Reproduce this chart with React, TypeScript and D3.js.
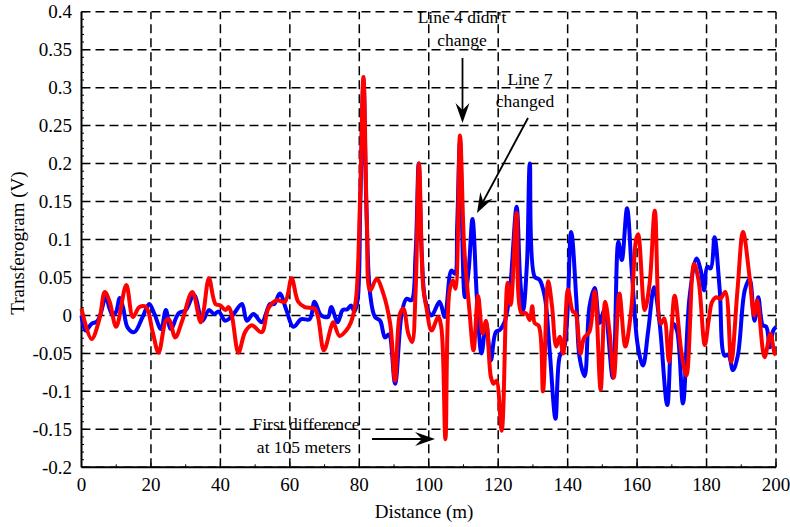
import React from "react";
import * as d3 from "d3";

const blueX = [0,1.2,2.9,4.5,5.5,7,8,9,10,11,12,13.3,15.2,17.6,19.5,21,22.9,24.3,25.7,28,30,32.4,34.8,36.7,38.2,39.5,41.4,43.5,46.2,47.6,49.5,51.9,54.3,55.5,57.1,59,61,63.3,65.7,67.1,69,71,71.9,73.8,75.2,76.5,77.6,78.6,79.5,80.3,81.2,82,83.1,84.5,86,87.4,88.5,90.3,92.2,93.6,95,96.2,97.1,98,99,100.8,103.1,104.6,106.5,107.5,108.2,109,110.4,111.5,112.6,113.9,115.2,116.5,117.9,119.3,120.5,121.9,123.3,125.3,126.3,127.2,128.3,129.1,130.5,131.9,133.4,134.8,136.5,137.7,139.1,141,142.5,143.4,144.9,146.3,147.8,149.2,150.6,153,154.6,155.6,157.1,158.5,160.2,161.7,163.2,164.9,166.5,168.7,170.4,171.5,173.2,175.1,177.1,178.3,179.3,180.2,181.2,182.3,183.8,185.2,186.3,187.6,189,191,192.4,193.8,194.9,196.2,197.2,198.2,199.2,200];
const blueY = [0,-0.02,-0.011,-0.008,0.002,0.025,0.01,0,0.005,0.023,0.01,-0.016,-0.022,-0.002,0.015,0.002,-0.018,0.007,-0.018,0.003,0.007,0.027,-0.007,0.007,0.002,0.005,-0.007,0,0.015,-0.007,0.002,-0.009,0.015,0.015,0.029,0.007,-0.015,-0.005,-0.005,0.018,0,-0.002,0.011,-0.009,0.007,0.008,0.013,0.005,0.02,0.15,0.31,0.15,0.029,-0.002,-0.007,-0.029,-0.025,-0.09,0.002,0.022,0.02,0.08,0.2,0.08,0.02,0,0.018,-0.002,0.059,0.055,0.12,0.23,0.024,0.06,0.127,0.02,-0.05,-0.01,-0.059,-0.022,-0.019,-0.008,0.029,0.143,0.05,0.007,0.07,0.2,0.051,0.047,0.025,-0.045,-0.136,-0.054,-0.041,0.11,0.021,-0.054,-0.08,0.012,0.036,-0.01,0.007,-0.082,0.097,0.073,0.141,0.056,-0.04,-0.066,-0.02,0.037,-0.011,-0.118,-0.011,-0.02,-0.116,0.024,0.075,0.06,0.033,0.064,0.062,0.103,0.033,-0.053,-0.052,-0.072,-0.053,0.033,0.048,-0.007,0.024,-0.013,-0.015,-0.042,-0.02,-0.015];

const redX = [0,2.9,5.2,6.7,8.1,10,12.9,14.8,16.7,18.6,20.5,22.2,24.3,25.2,27,29,31.9,34.3,35.2,36.7,38.6,40,41.4,42.4,43.3,45.2,47.1,49,51.9,53.8,56.2,58.6,60.5,62.4,64.3,67.1,68.1,69.8,71.9,72.5,74.3,76.2,77.6,79,80.2,81.2,82.2,83.1,85,86.9,88.9,90.3,91.7,92.7,94.1,95.2,96.2,97.2,98.4,99.3,100.8,102.7,103.6,104.8,106,107,107.7,109,110.2,111.7,112.9,114.2,115.5,116.5,117.9,118.7,119.5,121,122.7,123.6,125.3,126.7,128,129.1,129.8,130.5,131.7,132.9,134.4,135.5,136.7,137.7,138.7,140.1,141.5,142.2,143.7,144.7,146.3,147.8,149.5,150.8,152.1,153.3,154.9,156.6,158.3,159.7,160.3,162.2,163.6,165.1,166.8,167.8,169.2,170.8,172.8,174.2,176.4,177.7,179.5,180.6,181.6,182.8,184,185.4,187.1,188.9,190.5,192.4,193.7,194.6,196.7,198.4,199.6,200];
const redY = [0.009,-0.031,-0.004,0.031,0.018,-0.015,0.04,-0.002,0.011,0.011,-0.022,-0.049,-0.007,-0.005,-0.029,-0.007,0.031,-0.009,0.007,0.049,0.015,0.013,0.007,0.011,0,-0.049,-0.022,-0.013,-0.022,0.009,0.02,0.018,0.049,0.018,0.011,0.009,-0.002,-0.046,-0.015,-0.009,-0.027,-0.02,-0.009,0.02,0.15,0.314,0.12,0.033,0.048,0.029,-0.011,-0.086,0.002,0.009,-0.024,-0.035,0.03,0.2,0.037,0.011,-0.02,-0.002,-0.015,-0.163,0.033,0.046,0.035,0.237,0.09,0.007,-0.046,0.026,-0.024,-0.007,-0.081,-0.09,-0.086,-0.152,0.043,0.014,0.135,0.003,0.003,-0.006,0.012,-0.01,-0.014,-0.1,0.045,0.012,-0.041,-0.028,-0.05,0.034,0.005,0.004,-0.05,-0.03,-0.021,0.032,-0.098,0.018,-0.023,-0.082,0.029,-0.041,0.007,0.1,0.107,0.007,0.042,0.138,-0.011,-0.004,-0.061,0.026,-0.05,-0.079,0.068,0.046,-0.039,-0.007,0.018,0.024,0.022,0.031,-0.061,0.033,0.11,0.05,0,0.02,-0.055,-0.024,-0.05,-0.052];

const xTicks = [0, 20, 40, 60, 80, 100, 120, 140, 160, 180, 200];
const yTicks = [-0.2, -0.15, -0.1, -0.05, 0, 0.05, 0.1, 0.15, 0.2, 0.25, 0.3, 0.35, 0.4];

const FONT = "'Liberation Serif', 'Times New Roman', serif";

function Arrow({ x1, y1, x2, y2 }: { x1: number; y1: number; x2: number; y2: number }) {
  const ang = Math.atan2(y2 - y1, x2 - x1);
  const L = 20, W = 7, N = 13;
  const p = (d: number, s: number) => {
    const bx = x2 - d * Math.cos(ang);
    const by = y2 - d * Math.sin(ang);
    return [bx - s * Math.sin(ang), by + s * Math.cos(ang)];
  };
  const a = p(L, W), b = p(N, 0), c = p(L, -W);
  const lineEnd = p(N, 0);
  return (
    <g>
      <line x1={x1} y1={y1} x2={lineEnd[0]} y2={lineEnd[1]} stroke="#000" strokeWidth={1.8} />
      <path d={`M${x2},${y2}L${a[0]},${a[1]}L${b[0]},${b[1]}L${c[0]},${c[1]}Z`} fill="#000" />
    </g>
  );
}

export default function App() {
  const x = d3.scaleLinear().domain([0, 200]).range([81.5, 776]);
  const y = d3.scaleLinear().domain([-0.2, 0.4]).range([467.3, 11.7]);
  const line = d3
    .line<[number, number]>()
    .x((d) => x(d[0]))
    .y((d) => y(d[1]))
    .curve(d3.curveCatmullRom.alpha(0.5));
  const blue = blueX.map((v, i) => [v, blueY[i]] as [number, number]);
  const red = redX.map((v, i) => [v, redY[i]] as [number, number]);
  const fmt = (v: number) => {
    const s = String(+v.toFixed(2));
    return s === "-0" ? "0" : s;
  };
  const minorY = d3.range(-20, 41).map((i) => i / 100);
  const minorX = d3.range(0, 201, 10);

  return (
    <svg width={790} height={527} style={{ position: "absolute", left: 0, top: 0, background: "#fff" }} fontFamily={FONT}>
      <rect width={790} height={527} fill="#fff" />
      {yTicks.map((t) => (
        <line key={"gy" + t} x1={x(0)} x2={x(200)} y1={y(t)} y2={y(t)} stroke="#000" strokeWidth={1.5} strokeDasharray="9,5" />
      ))}
      {xTicks.slice(1).map((t) => (
        <line key={"gx" + t} x1={x(t)} x2={x(t)} y1={y(-0.2)} y2={y(0.4)} stroke="#000" strokeWidth={1.5} strokeDasharray="9,5" />
      ))}
      <line x1={x(0)} x2={x(0)} y1={y(0.4)} y2={y(-0.2)} stroke="#000" strokeWidth={2} />
      <line x1={x(0)} x2={x(200)} y1={y(-0.2)} y2={y(-0.2)} stroke="#000" strokeWidth={2} />
      {minorY.map((t) => (
        <line key={"my" + t} x1={x(0)} x2={x(0) + (Math.abs(Math.round(t * 100)) % 5 === 0 ? 5 : 2.5)} y1={y(t)} y2={y(t)} stroke="#000" strokeWidth={1} />
      ))}
      {minorX.map((t) => (
        <line key={"mx" + t} x1={x(t)} x2={x(t)} y1={y(-0.2)} y2={y(-0.2) - (t % 20 === 0 ? 5 : 3)} stroke="#000" strokeWidth={1} />
      ))}
      {yTicks.map((t) => (
        <text key={"ty" + t} x={72} y={y(t) + 6.5} textAnchor="end" fontSize={19} fill="#000">
          {fmt(t)}
        </text>
      ))}
      {xTicks.map((t) => (
        <text key={"tx" + t} x={x(t)} y={491} textAnchor="middle" fontSize={19} fill="#000">
          {t}
        </text>
      ))}
      <text x={424} y={518} textAnchor="middle" fontSize={19} fill="#000">
        Distance (m)
      </text>
      <text transform="translate(24,243) rotate(-90)" textAnchor="middle" fontSize={19} fill="#000">
        Transferogram (V)
      </text>
      <path d={line(blue) || ""} fill="none" stroke="#0000ff" strokeWidth={4} strokeLinejoin="round" />
      <path d={line(red) || ""} fill="none" stroke="#ff0000" strokeWidth={4} strokeLinejoin="round" />
      <text x={462} y={23} textAnchor="middle" fontSize={17.5} fill="#000">Line 4 didn't</text>
      <text x={462} y={46} textAnchor="middle" fontSize={17.5} fill="#000">change</text>
      <Arrow x1={462.5} y1={58} x2={462.5} y2={123} />
      <text x={530} y={85} textAnchor="middle" fontSize={17.5} fill="#000">Line 7</text>
      <text x={525} y={107} textAnchor="middle" fontSize={17.5} fill="#000">changed</text>
      <Arrow x1={528} y1={118} x2={477} y2={213} />
      <text x={306} y={430} textAnchor="middle" fontSize={17.5} fill="#000">First difference</text>
      <text x={304} y={453} textAnchor="middle" fontSize={17.5} fill="#000">at 105 meters</text>
      <Arrow x1={372} y1={439} x2={435} y2={439} />
    </svg>
  );
}
